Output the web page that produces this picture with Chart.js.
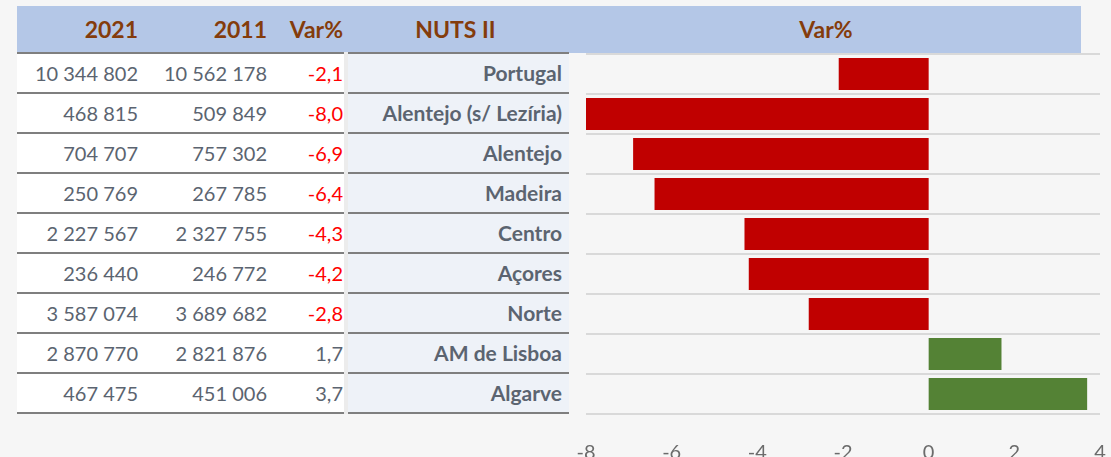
<!DOCTYPE html>
<html>
<head>
<meta charset="utf-8">
<script src="https://cdn.jsdelivr.net/npm/chart.js@4"></script>
<style>
  html, body { margin:0; padding:0; width:1111px; height:457px; overflow:hidden; background:#f6f6f6; font-family:Lato, "Open Sans", sans-serif; }
  .hdr { position:absolute; left:17px; top:6px; width:1064px; height:47px; background:#b4c7e7; }
  .htxt { position:absolute; top:6px; height:47px; line-height:47px; font-weight:bold; font-size:23px; color:#843c0c; }
  .lrow { position:absolute; left:17px; width:327px; height:38px; background:#fff; border-top:2px solid #7f7f7f; }
  .nrow { position:absolute; left:348px; width:221px; height:38px; background:#eef2f8; border-top:2px solid #7f7f7f; }
  .bot { position:absolute; height:2px; background:#7f7f7f; top:412px; }
  .cell { position:absolute; top:0; height:38px; line-height:38px; font-size:20px; color:#5b6470; text-align:right; }
  .gap { position:absolute; left:344px; width:4px; top:52px; height:362px; background:#ececec; }
  #wrap { position:absolute; left:570px; top:44px; width:541px; height:420px; }
</style>
</head>
<body>
<div class="hdr"></div>
<div class="htxt" style="left:17px;width:121px;text-align:right">2021</div>
<div class="htxt" style="left:150px;width:117px;text-align:right">2011</div>
<div class="htxt" style="left:270px;width:73px;text-align:right">Var%</div>
<div class="htxt" style="left:348px;width:221px;text-align:center;padding-right:6px;box-sizing:border-box">NUTS II</div>
<div class="htxt" style="left:586px;width:480px;text-align:center">Var%</div>
<div class="gap"></div>
<div id="rows"></div>
<div class="bot" style="left:17px;width:327px"></div>
<div class="bot" style="left:348px;width:221px"></div>
<div id="wrap"><canvas id="bars"></canvas></div>
<script>
var regions = ['Portugal', 'Alentejo (s/ Lezíria)', 'Alentejo', 'Madeira', 'Centro', 'Açores', 'Norte', 'AM de Lisboa', 'Algarve'];
var pop2021 = ['10 344 802', '468 815', '704 707', '250 769', '2 227 567', '236 440', '3 587 074', '2 870 770', '467 475'];
var pop2011 = ['10 562 178', '509 849', '757 302', '267 785', '2 327 755', '246 772', '3 689 682', '2 821 876', '451 006'];
var variation = [-2.1, -8.0, -6.9, -6.4, -4.3, -4.2, -2.8, 1.7, 3.7];
var xTicks = [-8, -6, -4, -2, 0, 2, 4];

function fmt(v){
    return v.toFixed(1).replace('.', ',');
}

function buildTable(){
    var html = '';
    for(var i = 0; i < regions.length; i++){
        var top = 52 + i * 40;
        var col = variation[i] < 0 ? '#ff0000' : '#5b6470';
        html += '<div class="lrow" style="top:' + top + 'px">' +
            '<div class="cell" style="left:0;width:121px">' + pop2021[i] + '</div>' +
            '<div class="cell" style="left:130px;width:120px">' + pop2011[i] + '</div>' +
            '<div class="cell" style="left:253px;width:73px;color:' + col + '">' + fmt(variation[i]) + '</div>' +
            '</div>';
        html += '<div class="nrow" style="top:' + top + 'px">' +
            '<div class="cell" style="left:0;width:214px;font-weight:bold;font-size:21px">' + regions[i] + '</div>' +
            '</div>';
    }
    document.getElementById('rows').innerHTML = html;
}

function varChart(){
    var ctx = document.getElementById('bars');
    new Chart(ctx, {
        type: 'bar',
        data: {
            labels: regions,
            datasets: [{
                data: variation,
                backgroundColor: variation.map(function(v){ return v < 0 ? '#c00000' : '#548235'; }),
                borderWidth: 0,
                categoryPercentage: 0.8,
                barPercentage: 1.0
            }]
        },
        options: {
            indexAxis: 'y',
            responsive: true,
            maintainAspectRatio: false,
            animation: false,
            layout: { padding: { left: 16, right: 11, top: 10, bottom: 0 } },
            plugins: { legend: { display: false }, tooltip: { enabled: false } },
            scales: {
                x: {
                    min: -8, max: 4,
                    afterBuildTicks: function(axis){ axis.ticks = xTicks.map(function(v){ return { value: v }; }); },
                    afterFit: function(axis){ axis.height = 50; axis.paddingLeft = 0; axis.paddingRight = 0; },
                    grid: { display: false, drawTicks: false },
                    border: { display: false },
                    ticks: { color: '#6b6b6b', font: { family: 'Lato', size: 20 }, padding: 27, maxRotation: 0 }
                },
                y: {
                    afterFit: function(axis){ axis.width = 0; },
                    grid: { color: '#d9d9d9', lineWidth: 2, drawTicks: false, offset: true },
                    border: { display: false },
                    ticks: { display: false }
                }
            }
        }
    });
}

buildTable();
varChart();
</script>
</body>
</html>
